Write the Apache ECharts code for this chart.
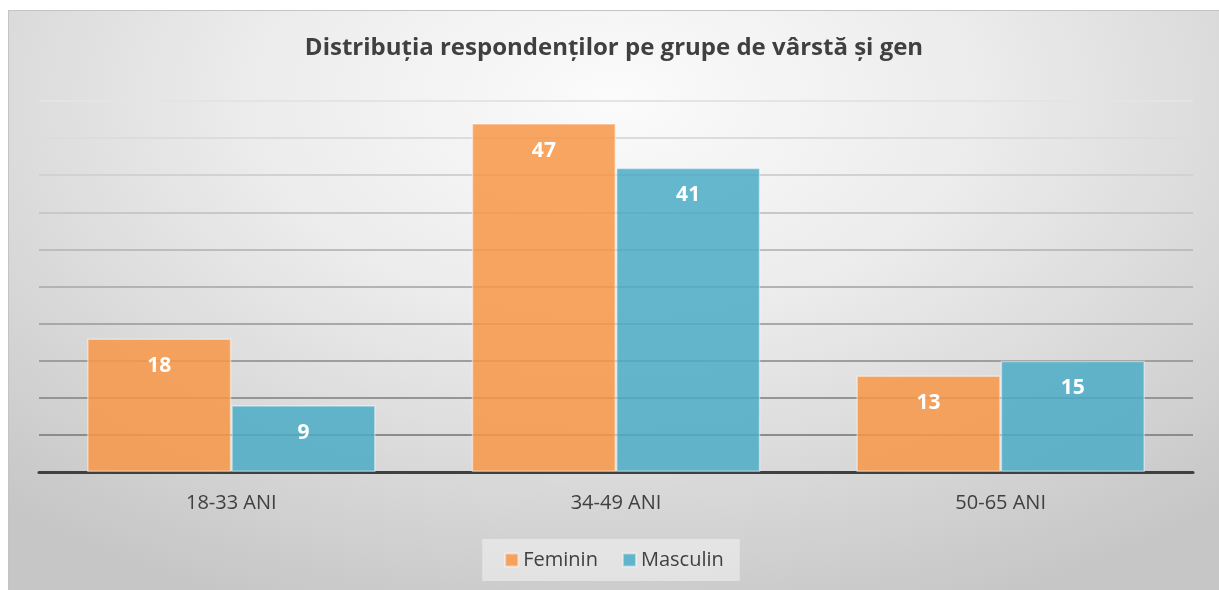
<!DOCTYPE html>
<html>
<head>
<meta charset="utf-8">
<script src="https://cdn.jsdelivr.net/npm/echarts@6/dist/echarts.min.js"></script>
<style>
  html, body { margin: 0; padding: 0; background: #ffffff; }
  #wrap { position: absolute; left: 8px; top: 10px; width: 1211px; height: 580px;
    border-top: 1px solid #c4c4c4; border-left: 1px solid #c4c4c4; box-sizing: border-box;
    background: radial-gradient(ellipse 75% 95% at 50% 15%, #fbfbfb 0%, #ececec 40%, #d6d6d6 75%, #c6c6c6 100%); }
  #chart { width: 100%; height: 100%; }
</style>
</head>
<body>
<div id="wrap"><div id="chart"></div></div>
<script>
const title = 'Distribuția respondenților pe grupe de vârstă și gen';
const categories = ['18-33 ANI', '34-49 ANI', '50-65 ANI'];
const seriesNames = ['Feminin', 'Masculin'];
const feminin = [18, 47, 13];
const masculin = [9, 41, 15];
const yMin = 0, yMax = 50, yStep = 5;

const chart = echarts.init(document.getElementById('chart'), null, { renderer: 'canvas' });
const font = '"Open Sans", "Noto Sans", sans-serif';
const labelCfg = {
  show: true, position: 'insideTop', distance: 17,
  color: '#ffffff', fontFamily: font, fontWeight: 'bold', fontSize: 21
};
chart.setOption({
  backgroundColor: 'transparent',
  animation: false,
  title: {
    text: title, left: 'center', top: 20,
    textStyle: { fontFamily: font, fontWeight: 'bold', fontSize: 24, color: '#404040' }
  },
  legend: {
    data: seriesNames, bottom: 9, left: 'center',
    backgroundColor: 'rgba(240,240,240,0.6)', padding: [11, 16, 11, 22],
    itemWidth: 13, itemHeight: 13, itemGap: 24,
    icon: 'rect',
    textStyle: { fontFamily: font, fontSize: 20, color: '#404040' }
  },
  grid: { left: 30, right: 26, top: 90, bottom: 118, containLabel: false },
  xAxis: {
    type: 'category', data: categories,
    axisLine: { show: true, lineStyle: { color: '#404040', width: 3 } },
    axisTick: { show: false },
    axisLabel: { fontFamily: font, fontSize: 20, color: '#404040', margin: 21 }
  },
  yAxis: {
    type: 'value', min: yMin, max: yMax, interval: yStep,
    axisLabel: { show: false }, axisLine: { show: false }, axisTick: { show: false },
    splitLine: { show: true, lineStyle: { width: 2, color: [
      '#7f7f7f', '#8c8c8c', '#959595', '#9e9e9e', '#a8a8a8', '#b3b3b3',
      '#bdbdbd', '#c8c8c8', '#d2d2d2', '#dcdcdc', '#e4e4e4'] } }
  },
  series: [
    { name: seriesNames[0], type: 'bar', data: feminin, barGap: '0%', barCategoryGap: '25%',
      itemStyle: { color: 'rgba(247,150,70,0.85)', borderColor: 'rgba(255,255,255,0.45)', borderWidth: 1.5 },
      label: labelCfg },
    { name: seriesNames[1], type: 'bar', data: masculin,
      itemStyle: { color: 'rgba(75,172,198,0.85)', borderColor: 'rgba(255,255,255,0.45)', borderWidth: 1.5 },
      label: labelCfg }
  ]
});
</script>
</body>
</html>
